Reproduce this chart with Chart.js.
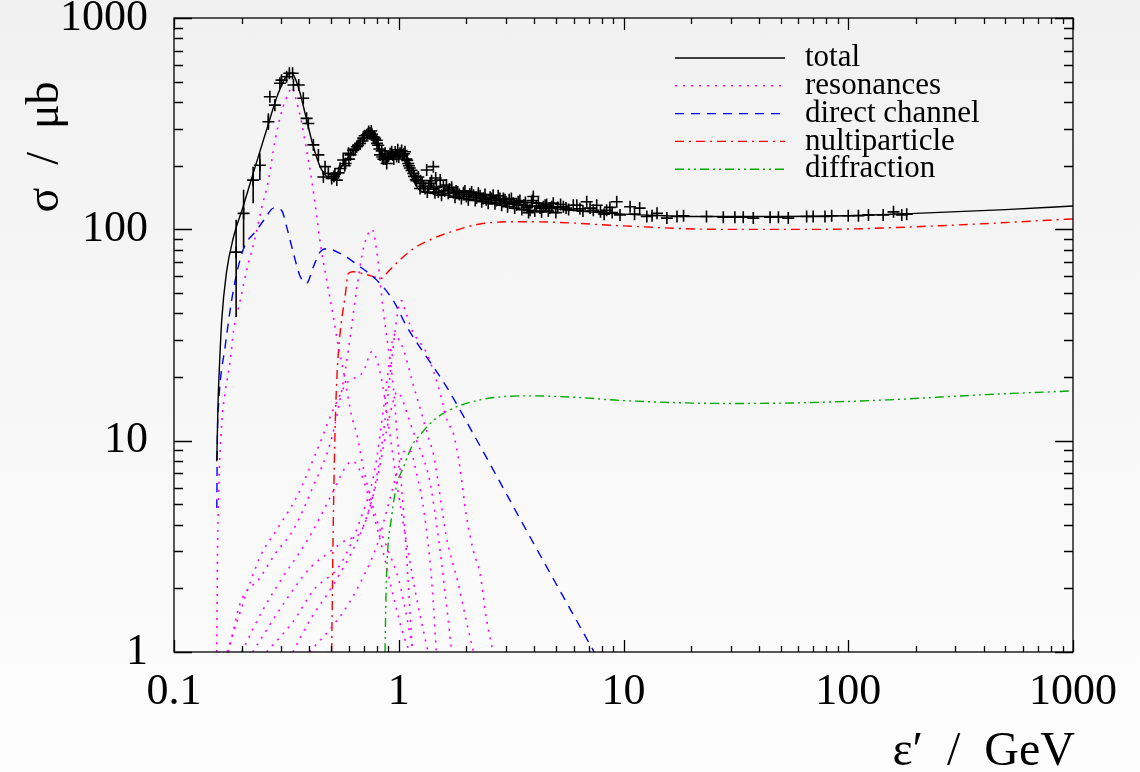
<!DOCTYPE html>
<html>
<head>
<meta charset="utf-8">
<script src="https://cdn.jsdelivr.net/npm/chart.js@4.4.1/dist/chart.umd.min.js"></script>
<style>
  html, body { margin: 0; padding: 0; }
  body { width: 1140px; height: 772px; background: linear-gradient(#f1f1f1, #fdfdfd); overflow: hidden; }
  #wrap { position: relative; width: 1140px; height: 772px; }
</style>
</head>
<body>
<div id="wrap"><canvas id="chart"></canvas></div>
<script>
// axis ticks
const xTicks = [0.1, 1, 10, 100, 1000]
const xTickLabels = ['0.1', '1', '10', '100', '1000']
const yTicks = [1, 10, 100, 1000]
const yTickLabels = ['1', '10', '100', '1000']

// measured total cross section
const dataX = [0.189, 0.204, 0.225, 0.241, 0.263, 0.267, 0.281, 0.296, 0.301, 0.317, 0.326, 0.337, 0.340, 0.359, 0.376, 0.389, 0.396, 0.417, 0.439, 0.462, 0.470, 0.486, 0.503, 0.515, 0.530, 0.548, 0.566, 0.580, 0.597, 0.610, 0.628, 0.650, 0.660, 0.673, 0.695, 0.705, 0.720, 0.735, 0.745, 0.760, 0.771, 0.785, 0.798, 0.810, 0.826, 0.840, 0.855, 0.869, 0.884, 0.900, 0.930, 0.950, 0.979, 0.990, 1.013, 1.040, 1.066, 1.080, 1.102, 1.120, 1.161, 1.190, 1.222, 1.244, 1.270, 1.309, 1.331, 1.360, 1.400, 1.425, 1.449, 1.470, 1.530, 1.580, 1.630, 1.680, 1.750, 1.800, 1.860, 1.940, 2.000, 2.070, 2.150, 2.220, 2.300, 2.380, 2.450, 2.550, 2.630, 2.720, 2.820, 2.920, 3.000, 3.100, 3.230, 3.340, 3.460, 3.600, 3.720, 3.840, 3.900, 3.970, 4.100, 4.250, 4.400, 4.550, 4.700, 4.870, 5.100, 5.400, 5.700, 5.980, 6.400, 6.860, 7.340, 7.900, 8.410, 8.900, 9.330, 9.650, 10.7, 11.8, 12.7, 14.1, 15.6, 17.3, 18.5, 23.4, 27.8, 31.3, 34.1, 37.8, 44.9, 48.9, 54.1, 65.3, 69.8, 78.8, 84.4, 100, 111, 123, 143, 159, 173, 182,
    0.52, 0.54, 0.575, 0.6, 0.64, 0.69, 0.73, 0.755, 0.78, 0.8, 0.82, 0.845, 0.87, 0.89, 0.915, 0.94, 0.965, 1.0, 1.03, 1.055, 1.09, 1.11, 1.14, 1.17, 1.2,
    1.25, 1.29, 1.34, 1.38, 1.43, 1.46, 1.5, 1.55, 1.6, 1.66, 1.72, 1.78, 1.83, 1.9, 1.97, 2.04, 2.11, 2.19, 2.26, 2.34, 2.42, 2.5, 2.59, 2.68, 2.77, 2.87, 2.97, 3.05, 3.17, 3.28, 3.4, 3.53, 3.66, 3.78, 3.93, 4.03, 4.18, 4.32, 4.48, 4.63, 4.8, 5.0, 5.25, 5.55, 6.2, 6.6, 7.1, 7.6, 8.2, 8.7, 11.2, 13.4]
const dataY = [78, 119, 171, 201, 323, 424, 387, 491, 508, 527, 548, 548, 482, 482, 417, 335, 317, 251, 225, 177, 198, 184, 174, 178, 171, 194, 213, 205, 229, 225, 237, 246, 250, 255, 270, 277, 280, 290, 285, 282, 274, 268, 264, 250, 225, 235, 215, 229, 205, 222, 233, 215, 221, 238, 229, 225, 233, 215, 205, 195, 184, 172, 177, 156, 165, 156, 191, 160, 170, 198, 149, 158, 171, 160, 162, 155, 149, 152, 146, 149, 143, 147, 145, 141, 144, 140, 138, 142, 145, 137, 140, 140, 135, 138, 133, 131, 137, 130, 127, 123, 134, 143, 129, 126, 128, 131, 126, 133, 127, 128, 124, 130, 125, 135, 123, 121, 123, 120, 135, 117, 128, 126, 115, 119, 113, 115, 116, 115, 114, 114, 114, 113, 114, 114, 113, 115, 115, 115, 116, 116, 116, 117, 117, 121, 117, 118,
    182, 185, 200, 215, 240, 262, 283, 292, 272, 255, 240, 220, 215, 218, 228, 225, 232, 220, 236, 228, 212, 200, 190, 178, 170,
    170, 160, 150, 165, 155, 175, 150, 145, 152, 148, 158, 142, 150, 140, 152, 138, 150, 137, 148, 135, 146, 133, 140, 132, 144, 130, 138, 128, 140, 126, 135, 124, 134, 120, 137, 122, 133, 121, 130, 122, 128, 120, 131, 126, 130, 122, 126, 130, 118, 127, 118, 116]
// large vertical errors near threshold
const barX = [0.189, 0.204, 0.225, 0.241, 0.263]
const barLo = [38.5, 82, 133, 171, 295]
const barHi = [111, 154, 198, 229, 354]

// model curves
const totalX = [0.155, 0.157, 0.160, 0.163, 0.171, 0.184, 0.203, 0.225, 0.258, 0.291, 0.319, 0.334, 0.357, 0.383, 0.417, 0.454, 0.503, 0.548, 0.628, 0.732, 0.811, 0.899, 1.01, 1.12, 1.24, 1.5, 2, 3, 4, 5, 7, 10, 15, 20, 50, 100, 200, 500, 1000]
const totalY = [8, 15, 25, 37, 62, 92, 128, 184, 295, 440, 537, 548, 473, 354, 246, 191, 174, 194, 237, 285, 246, 213, 229, 184, 153, 147, 140, 132, 128, 125, 121, 118, 116, 115, 115, 116, 119, 124, 129]

const directX = [0.155, 0.156, 0.158, 0.169, 0.184, 0.203, 0.233, 0.255, 0.277, 0.301, 0.317, 0.340, 0.364, 0.389, 0.417, 0.446, 0.478, 0.548, 0.673, 0.798, 0.946, 1.08, 1.63, 2.22, 3.84, 7.4]
const directY = [4.8, 10.5, 15, 28, 52, 80, 99, 113, 126, 123, 103, 77, 60, 55.6, 66.5, 78, 81, 77, 66.5, 57.5, 46, 35, 18, 10.1, 3.5, 1]

const multiX = [0.503, 0.507, 0.510, 0.520, 0.530, 0.548, 0.577, 0.597, 0.628, 0.720, 0.840, 0.884, 1.01, 1.2, 1.43, 1.63, 2.3, 3.46, 5, 9.65, 27, 75, 256, 1000]
const multiY = [1, 2, 3.4, 10.4, 19.4, 32, 48, 62, 63, 61, 58.7, 62, 71.6, 82.8, 90.7, 95.7, 106, 108.7, 108, 104, 100, 100, 104, 112]

const diffX = [0.869, 0.875, 0.884, 0.93, 0.98, 1.05, 1.16, 1.24, 1.43, 1.69, 2.3, 3.71, 6.4, 9.65, 30, 60, 150, 400, 1000]
const diffY = [1, 1.6, 2.44, 4.37, 6.17, 7.5, 9.7, 10.6, 12.5, 14, 15.6, 16.3, 16, 15.5, 15, 15.1, 15.6, 16.5, 17.2]

// resonances
const res1X = [0.155, 0.156, 0.158, 0.163, 0.169, 0.178, 0.184, 0.197, 0.212, 0.229, 0.245, 0.263, 0.281, 0.301, 0.323, 0.335, 0.345, 0.37, 0.389, 0.41, 0.428, 0.449, 0.477, 0.512, 0.539, 0.57, 0.618, 0.65, 0.695, 0.8, 0.9, 1.0, 1.08, 1.16]
const res1Y = [1, 2.6, 5.6, 12, 17, 24, 33, 46, 66, 90, 125, 170, 260, 360, 440, 470, 430, 318, 237, 171, 123, 84, 58, 38.6, 27.8, 20.8, 13, 10.8, 7.5, 4.2, 3, 2.2, 1.5, 1]
const res2X = [0.175, 0.197, 0.241, 0.281, 0.34, 0.417, 0.503, 0.58, 0.65, 0.684, 0.72, 0.762, 0.8, 0.853, 0.914, 0.946, 0.98, 1.03, 1.08, 1.12, 1.15]
const res2Y = [1, 1.7, 2.24, 2.9, 3.8, 6.1, 10.3, 22, 52, 74, 92, 100, 77, 41.5, 24, 18, 11.2, 6, 3, 1.6, 1]
const res3X = [0.172, 0.241, 0.287, 0.351, 0.431, 0.511, 0.587, 0.695, 0.76, 0.8, 0.85, 0.9, 0.95, 1.0, 1.1, 1.2, 1.3, 1.35]
const res3Y = [1, 2.8, 3.8, 5.4, 8.9, 14, 18.7, 21.2, 26.4, 24, 18, 12, 8, 5.5, 3, 1.8, 1.2, 1]
const res4X = [0.2, 0.25, 0.3, 0.4, 0.5, 0.58, 0.62, 0.68, 0.75, 0.85, 0.95, 1.05, 1.12]
const res4Y = [1, 1.6, 2.2, 3.5, 5.5, 7.5, 8, 7, 5, 3, 1.8, 1.2, 1]
const res5X = [0.224, 0.315, 0.403, 0.478, 0.587, 0.673, 0.75, 0.82, 0.88, 0.93, 0.97, 1.0, 1.03, 1.07, 1.15, 1.33, 1.5, 1.65, 1.75, 1.87, 2.0, 2.15, 2.3, 2.46, 2.63]
const res5Y = [1, 1.76, 2.5, 2.9, 3.4, 3.66, 5, 8, 14, 24, 35, 43, 46, 41, 33, 26, 18, 12.3, 10.8, 7.5, 4.4, 3, 2.35, 1.42, 1]
const res6X = [0.258, 0.34, 0.417, 0.55, 0.673, 0.783, 0.866, 0.946, 0.975, 1.01, 1.05, 1.15, 1.25, 1.35, 1.43, 1.63, 1.84, 2.04, 2.15]
const res6Y = [1, 1.4, 1.96, 2.6, 4.2, 7.3, 15.6, 31, 32, 29.4, 27, 19, 14, 10.5, 8.5, 3.5, 2.1, 1.27, 1]
const res7X = [0.338, 0.4, 0.5, 0.6, 0.7, 0.8, 0.88, 0.94, 0.98, 1.03, 1.1, 1.2, 1.3, 1.38, 1.5, 1.6, 1.72]
const res7Y = [1, 1.4, 2, 2.8, 4, 6.5, 11, 15, 17, 16, 13, 10, 8, 6.3, 3.5, 2, 1]
const res8X = [0.4, 0.5, 0.6, 0.7, 0.8, 0.9, 1.0, 1.07, 1.12, 1.2, 1.3, 1.4, 1.47]
const res8Y = [1, 1.3, 1.7, 2.3, 3.2, 5, 7.5, 9, 9, 7, 4.5, 2.2, 1]

const pts = (xs, ys) => xs.map((x, i) => ({x: x, y: ys[i]}))

const serif = '"Liberation Serif", "DejaVu Serif", serif'

function curve(label, xs, ys, color, dash, width) {
    return {
        label: label,
        data: pts(xs, ys),
        showLine: true,
        pointRadius: 0,
        borderColor: color,
        borderWidth: width,
        borderDash: dash,
        cubicInterpolationMode: 'monotone',
        fill: false
    }
}

const magenta = '#ff00ff'
const resDash = [2, 6]
const resonances = [
    [res1X, res1Y], [res2X, res2Y], [res3X, res3Y], [res4X, res4Y],
    [res5X, res5Y], [res6X, res6Y], [res7X, res7Y], [res8X, res8Y]
].map((r, i) => curve(i == 0 ? 'resonances' : '', r[0], r[1], magenta, resDash, 1.6))

const datasets = [
    {
        label: '',
        data: pts(dataX, dataY),
        showLine: false,
        pointStyle: 'cross',
        pointRadius: 6,
        borderColor: '#000',
        borderWidth: 1.6
    },
    curve('total', totalX, totalY, '#000', [], 1.4),
    ...resonances,
    curve('direct channel', directX, directY, '#0000ff', [9, 7], 1.4),
    curve('nultiparticle', multiX, multiY, '#ff0000', [9, 5, 2, 5], 1.4),
    curve('diffraction', diffX, diffY, '#00aa00', [9, 4, 2, 4, 2, 4], 1.4)
]
// legend order
const legendOrder = ['total', 'resonances', 'direct channel', 'nultiparticle', 'diffraction']

function minorValues(scale) {
    const out = []
    const lo = Math.floor(Math.log10(scale.min))
    const hi = Math.ceil(Math.log10(scale.max))
    for (let e = lo; e <= hi; e++) {
        for (let m = 1; m <= 9; m++) {
            const v = m * Math.pow(10, e)
            if (v >= scale.min * 0.999 && v <= scale.max * 1.001) out.push({v: v, major: m == 1})
        }
    }
    return out
}

const errorBars = {
    id: 'errorBars',
    afterDatasetsDraw(chart) {
        const ctx = chart.ctx, x = chart.scales.x, y = chart.scales.y
        ctx.save()
        ctx.strokeStyle = '#000'
        ctx.lineWidth = 1.6
        barX.forEach((bx, i) => {
            const px = x.getPixelForValue(bx)
            ctx.beginPath()
            ctx.moveTo(px, y.getPixelForValue(barHi[i]))
            ctx.lineTo(px, y.getPixelForValue(barLo[i]))
            ctx.stroke()
        })
        ctx.restore()
    }
}

const frame = {
    id: 'frame',
    afterDraw(chart) {
        const ctx = chart.ctx, a = chart.chartArea
        const x = chart.scales.x, y = chart.scales.y
        ctx.save()
        ctx.strokeStyle = '#000'
        ctx.lineWidth = 1.3
        ctx.strokeRect(a.left, a.top, a.right - a.left, a.bottom - a.top)
        ctx.beginPath()
        minorValues(x).forEach(t => {
            const px = Math.round(x.getPixelForValue(t.v)) + 0.5
            const len = t.major ? 12 : 6
            ctx.moveTo(px, a.bottom); ctx.lineTo(px, a.bottom - len)
            ctx.moveTo(px, a.top); ctx.lineTo(px, a.top + len)
        })
        minorValues(y).forEach(t => {
            const py = Math.round(y.getPixelForValue(t.v)) + 0.5
            const len = t.major ? 18 : 9
            ctx.moveTo(a.left, py); ctx.lineTo(a.left + len, py)
            ctx.moveTo(a.right, py); ctx.lineTo(a.right - len, py)
        })
        ctx.stroke()

        // axis titles
        ctx.fillStyle = '#000'
        ctx.font = '48px ' + serif
        ctx.textAlign = 'right'
        ctx.textBaseline = 'middle'
        ctx.fillText('ε′  /  GeV', a.right + 2, 752)
        ctx.translate(46, 147)
        ctx.rotate(-Math.PI / 2)
        ctx.textAlign = 'center'
        ctx.font = '46px ' + serif
        ctx.fillText('σ  /  μb', 0, 0)
        ctx.restore()
    }
}

const legendBox = {
    id: 'legendBox',
    afterDraw(chart) {
        const ctx = chart.ctx
        ctx.save()
        ctx.font = '31px ' + serif
        ctx.textBaseline = 'middle'
        ctx.textAlign = 'left'
        legendOrder.forEach((name, i) => {
            const ds = chart.data.datasets.find(d => d.label == name)
            const ry = 58 + i * 27.8
            ctx.strokeStyle = ds.borderColor
            ctx.lineWidth = ds.borderWidth
            ctx.setLineDash(ds.borderDash)
            ctx.beginPath()
            ctx.moveTo(675, ry)
            ctx.lineTo(785, ry)
            ctx.stroke()
            ctx.setLineDash([])
            ctx.fillStyle = '#000'
            ctx.fillText(name, 805, ry)
        })
        ctx.restore()
    }
}

new Chart('chart', {
    type: 'scatter',
    data: { datasets: datasets },
    options: {
        responsive: true,
        maintainAspectRatio: false,
        animation: false,
        devicePixelRatio: 1,
        layout: { padding: { left: 34, right: 67, top: 18, bottom: 40 } },
        plugins: { legend: { display: false }, tooltip: { enabled: false } },
        scales: {
            x: {
                type: 'logarithmic',
                min: 0.1,
                max: 1000,
                afterBuildTicks: s => { s.ticks = xTicks.map(v => ({value: v})) },
                ticks: {
                    autoSkip: false,
                    maxRotation: 0,
                    padding: 18,
                    color: '#000',
                    font: { family: serif, size: 44, lineHeight: 1 },
                    callback: (v, i) => xTickLabels[i]
                },
                grid: { display: false, drawTicks: false },
                border: { display: false }
            },
            y: {
                type: 'logarithmic',
                min: 1,
                max: 1000,
                afterBuildTicks: s => { s.ticks = yTicks.map(v => ({value: v})) },
                // the top label may run above the frame, as in the original
                afterFit: s => { s.paddingTop = 0; s.paddingBottom = 0 },
                ticks: {
                    autoSkip: false,
                    padding: 26,
                    color: '#000',
                    font: { family: serif, size: 44, lineHeight: 0.8 },
                    callback: (v, i) => yTickLabels[i]
                },
                grid: { display: false, drawTicks: false },
                border: { display: false }
            }
        }
    },
    plugins: [errorBars, frame, legendBox]
})
</script>
</body>
</html>
